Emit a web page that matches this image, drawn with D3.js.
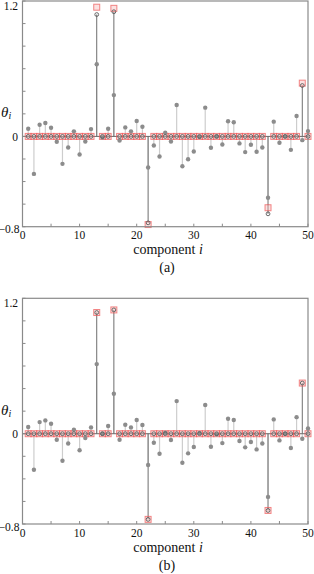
<!DOCTYPE html>
<html><head><meta charset="utf-8">
<script src="https://cdn.jsdelivr.net/npm/d3@7"></script>
<style>html,body{margin:0;padding:0;background:#fff;}svg{display:block;}</style>
</head><body>
<svg id="chart" width="314" height="574"></svg>
<script>
// ---------- data ----------
const components = d3.range(1, 51);
const xTickLabels = [0, 10, 20, 30, 40, 50];
const xMinorTicks = d3.range(0, 51, 5);
const yTickLabels = [1.2, 0, -0.8];
const yMinorTicks = [-0.8, -0.6, -0.4, -0.2, 0, 0.2, 0.4, 0.6, 0.8, 1.0, 1.2];
const panelNames = ["(a)", "(b)"];

// gray filled dots (panel a)
const grayA = [0.068,-0.332,0.104,0.119,0.077,-0.047,-0.243,-0.098,0.045,-0.160,
               -0.045,0.065,0.640,-0.010,0.068,0.366,-0.036,0.080,0.045,0.137,
               0.086,-0.276,-0.080,-0.178,0.033,-0.045,0.279,-0.264,-0.202,-0.134,
               -0.005,0.255,-0.101,0.000,-0.071,0.134,0.125,-0.062,-0.139,-0.074,
               -0.136,-0.098,-0.543,0.131,-0.056,0.000,-0.119,0.181,-0.033,0.047];
// open circles (panel a)
const estA = [0,0,0,0,0,0,0,0,0,0, 0,0,1.080,0,0,1.105,0,0,0,0,
              0,-0.766,0,0,0,0,0,0,0,0, 0,0,0,0,0,0,0,0,0,0,
              0,0,-0.686,0,0,0,0,0,0.451,0];
// red squares (panel a)
const trueA = [0,0,0,0,0,0,0,0,0,0, 0,0,1.145,0,0,1.135,0,0,0,0,
               0,-0.781,0,0,0,0,0,0,0,0, 0,0,0,0,0,0,0,0,0,0,
               0,0,-0.632,0,0,0,0,0,0.472,0];

// gray filled dots (panel b)
const grayB = [0.059,-0.319,0.103,0.118,0.088,-0.053,-0.239,-0.086,0.035,-0.147,
               -0.038,0.056,0.617,0.000,0.068,0.354,-0.053,0.080,0.056,0.121,
               0.077,-0.277,-0.080,-0.177,0.009,-0.056,0.289,-0.257,-0.174,-0.118,
               0.006,0.254,-0.115,-0.006,-0.083,0.133,0.121,-0.065,-0.121,-0.074,
               -0.139,-0.086,-0.560,0.127,-0.059,0.000,-0.127,0.147,-0.044,0.047];
// open circles (panel b)
const estB = [0,0,0,0,0,0,0,0,0,0, 0,0,1.074,0,0,1.097,0,0,0,0,
              0,-0.759,0,0,0,0,0,0,0,0, 0,0,0,0,0,0,0,0,0,0,
              0,0,-0.680,0,0,0,0,0,0.449,0];
// red squares (panel b)
const trueB = [0,0,0,0,0,0,0,0,0,0, 0,0,1.074,0,0,1.097,0,0,0,0,
               0,-0.759,0,0,0,0,0,0,0,0, 0,0,0,0,0,0,0,0,0,0,
               0,0,-0.680,0,0,0,0,0,0.449,0];

// ---------- drawing ----------
const svg = d3.select("#chart");
svg.append("rect").attr("width", 314).attr("height", 574).attr("fill", "#fff");
const FONT = "'Liberation Serif','Times New Roman',serif";
const x = d3.scaleLinear().domain([0, 50]).range([22.5, 308]);

function panel(gray, est, tru, top, bottom, name) {
  const y = d3.scaleLinear().domain([-0.8, 1.2]).range([bottom, top]);
  const g = svg.append("g");

  // light stems of gray dots
  g.selectAll(".gs").data(components).enter().append("line")
    .attr("x1", d => x(d)).attr("x2", d => x(d))
    .attr("y1", y(0)).attr("y2", d => y(gray[d - 1]))
    .attr("stroke", "#cdcdcd").attr("stroke-width", 1.2);

  // dark stems of circles
  g.selectAll(".es").data(components.filter(d => est[d - 1] !== 0)).enter().append("line")
    .attr("x1", d => x(d)).attr("x2", d => x(d))
    .attr("y1", y(0)).attr("y2", d => y(est[d - 1]))
    .attr("stroke", "#6e6e6e").attr("stroke-width", 1);

  // zero baseline
  g.append("line").attr("x1", x(0)).attr("x2", x(50))
    .attr("y1", y(0)).attr("y2", y(0))
    .attr("stroke", "#6a6a6a").attr("stroke-width", 1);

  // red squares
  const s = 6;
  g.selectAll(".sq").data(components).enter().append("rect")
    .attr("x", d => x(d) - s / 2).attr("y", d => y(tru[d - 1]) - s / 2)
    .attr("width", s).attr("height", s)
    .attr("fill", "#f7b5b5").attr("fill-opacity", 0.4)
    .attr("stroke", "#ec4a4a").attr("stroke-opacity", 0.65).attr("stroke-width", 1);

  // gray filled dots
  g.selectAll(".gd").data(components).enter().append("circle")
    .attr("cx", d => x(d)).attr("cy", d => y(gray[d - 1])).attr("r", 2.2)
    .attr("fill", "#8c8c8c");

  // open circles
  g.selectAll(".oc").data(components).enter().append("circle")
    .attr("cx", d => x(d)).attr("cy", d => y(est[d - 1])).attr("r", 1.9)
    .attr("fill", "none").attr("stroke", "#5a5a5a").attr("stroke-width", 0.9);

  // frame
  g.append("rect").attr("x", x(0)).attr("y", top)
    .attr("width", x(50) - x(0)).attr("height", bottom - top)
    .attr("fill", "none").attr("stroke", "#8a8a8a").attr("stroke-width", 1.2);

  // y ticks (inward)
  g.selectAll(".yt").data(yMinorTicks).enter().append("line")
    .attr("x1", x(0)).attr("x2", x(0) + 3)
    .attr("y1", d => y(d)).attr("y2", d => y(d))
    .attr("stroke", "#8a8a8a").attr("stroke-width", 1);
  // x ticks (inward)
  g.selectAll(".xt").data(xMinorTicks).enter().append("line")
    .attr("x1", d => x(d)).attr("x2", d => x(d))
    .attr("y1", bottom).attr("y2", bottom - 3)
    .attr("stroke", "#8a8a8a").attr("stroke-width", 1);

  // y tick labels
  g.selectAll(".yl").data(yTickLabels).enter().append("text")
    .attr("x", d => d < 0 ? 19.5 : 18).attr("y", d => y(d) + (d === 1.2 ? 8.5 : (d === 0 ? 4.5 : 6.5)))
    .attr("text-anchor", "end").attr("font-family", FONT).attr("font-size", 11.5)
    .attr("fill", "#111").text(d => d === 0 ? "0" : d3.format("")(d));

  // x tick labels
  g.selectAll(".xl").data(xTickLabels).enter().append("text")
    .attr("x", d => x(d)).attr("y", bottom + 12.5)
    .attr("text-anchor", "middle").attr("font-family", FONT).attr("font-size", 11.5)
    .attr("fill", "#111").text(d => d);

  // x axis title
  const xt = g.append("text").attr("x", 168).attr("y", bottom + 27.5)
    .attr("text-anchor", "middle").attr("font-family", FONT).attr("font-size", 14)
    .attr("fill", "#111");
  xt.append("tspan").text("component ");
  xt.append("tspan").attr("font-style", "italic").text("i");

  // y axis title
  const yt = g.append("text").attr("x", 1).attr("y", y(0) - 19)
    .attr("font-family", FONT).attr("font-size", 15).attr("fill", "#111");
  yt.append("tspan").attr("font-style", "italic").text("θ");
  yt.append("tspan").attr("font-style", "italic").attr("font-size", 10).attr("dy", 2).text("i");

  // panel label
  g.append("text").attr("x", 167).attr("y", bottom + 45.5)
    .attr("text-anchor", "middle").attr("font-family", FONT).attr("font-size", 14)
    .attr("fill", "#111").text(name);
}

panel(grayA, estA, trueA, 1, 226.7, panelNames[0]);
panel(grayB, estB, trueB, 298.3, 524, panelNames[1]);
</script>
</body></html>
